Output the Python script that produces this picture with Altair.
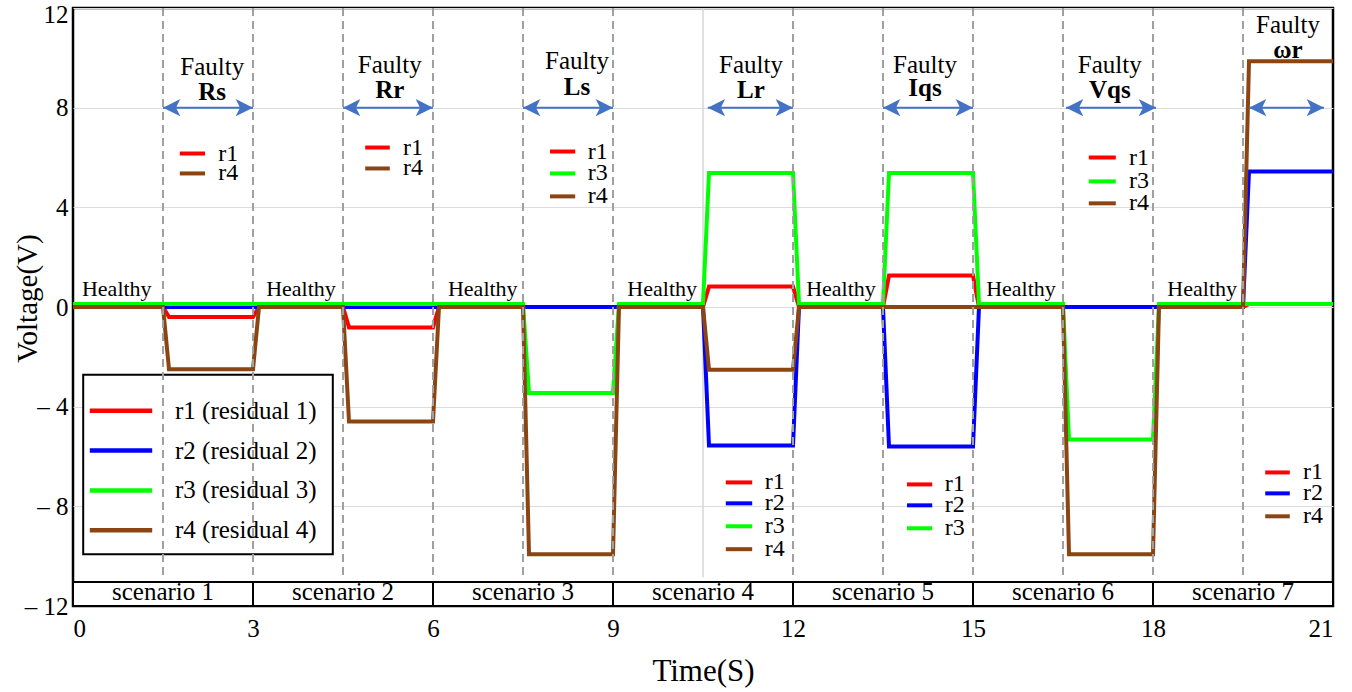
import altair as alt
import pandas as pd

FONT = "Liberation Serif"

# ---------------- data ----------------
time_s = [0, 1.5, 1.6, 3.0, 3.1, 4.5, 4.6, 6.0, 6.1, 7.5, 7.6, 9.0, 9.1,
          10.5, 10.6, 12.0, 12.1, 13.5, 13.6, 15.0, 15.1, 16.5, 16.6, 18.0, 18.1,
          19.5, 19.6, 21.0]
r1 = [0, 0, -0.4, -0.4, 0, 0, -0.82, -0.82, 0, 0, 0, 0, 0,
      0, 0.82, 0.82, 0, 0, 1.26, 1.26, 0, 0, 0, 0, 0,
      0, 0.12, 0.12]
r2 = [0, 0, 0, 0, 0, 0, 0, 0, 0, 0, 0, 0, 0,
      0, -5.56, -5.56, 0, 0, -5.6, -5.6, 0, 0, 0, 0, 0,
      0, 5.44, 5.44]
r3 = [0.12, 0.12, 0.12, 0.12, 0.12, 0.12, 0.12, 0.12, 0.12, 0.12, -3.45, -3.45, 0.12,
      0.12, 5.38, 5.38, 0.12, 0.12, 5.38, 5.38, 0.12, 0.12, -5.32, -5.32, 0.12,
      0.12, 0.12, 0.12]
r4 = [0, 0, -2.5, -2.5, 0, 0, -4.6, -4.6, 0, 0, -9.92, -9.92, 0,
      0, -2.52, -2.52, 0, 0, 0, 0, 0, 0, -9.92, -9.92, 0,
      0, 9.86, 9.86]

series_names = ["r1", "r2", "r3", "r4"]
series_colors = ["#ff0000", "#0000ff", "#00ff00", "#8b4513"]
legend_labels = ["r1 (residual 1)", "r2 (residual 2)", "r3 (residual 3)", "r4 (residual 4)"]

scenario_labels = ["scenario 1", "scenario 2", "scenario 3", "scenario 4",
                   "scenario 5", "scenario 6", "scenario 7"]
scenario_start = [0, 3, 6, 9, 12, 15, 18]
scenario_end = [3, 6, 9, 12, 15, 18, 21]

dashed_times = [1.5, 3, 4.5, 6, 7.5, 9, 12, 13.5, 15, 16.5, 18, 19.5]
grid_times = [10.5]

healthy_t = [0.73, 3.8, 6.83, 9.82, 12.8, 15.8, 18.82]
healthy_v = [0.44, 0.44, 0.44, 0.44, 0.44, 0.44, 0.44]

fault_names = ["Rs", "Rr", "Ls", "Lr", "Iqs", "Vqs", "ωr"]
fault_t = [2.32, 5.28, 8.4, 11.3, 14.2, 17.28, 20.25]
fault_word_v = [9.32, 9.4, 9.56, 9.4, 9.4, 9.4, 11.0]
fault_name_v = [8.32, 8.4, 8.52, 8.4, 8.48, 8.4, 10.0]
arrow_start = [1.5, 4.5, 7.5, 10.58, 13.5, 16.55, 19.6]
arrow_end = [3.0, 6.0, 9.0, 12.0, 15.0, 18.05, 20.85]
arrow_v = [8.0, 8.0, 8.0, 8.0, 8.0, 8.0, 8.0]

# small per-scenario legends
mini_series = ["r1", "r4",
               "r1", "r4",
               "r1", "r3", "r4",
               "r1", "r2", "r3", "r4",
               "r1", "r2", "r3",
               "r1", "r3", "r4",
               "r1", "r2", "r4"]
mini_t0 = [1.78, 1.78, 4.87, 4.87, 7.95, 7.95, 7.95,
           10.88, 10.88, 10.88, 10.88, 13.9, 13.9, 13.9,
           16.93, 16.93, 16.93, 19.87, 19.87, 19.87]
mini_t1 = [2.2, 2.2, 5.28, 5.28, 8.37, 8.37, 8.37,
           11.32, 11.32, 11.32, 11.32, 14.32, 14.32, 14.32,
           17.38, 17.38, 17.38, 20.28, 20.28, 20.28]
mini_text_t = [2.42, 2.42, 5.5, 5.5, 8.58, 8.58, 8.58,
               11.53, 11.53, 11.53, 11.53, 14.53, 14.53, 14.53,
               17.6, 17.6, 17.6, 20.5, 20.5, 20.5]
mini_v = [6.16, 5.36, 6.4, 5.56, 6.24, 5.36, 4.44,
          -7.04, -7.88, -8.8, -9.72, -7.12, -7.96, -8.88,
          6.0, 5.04, 4.16, -6.64, -7.48, -8.4]

# main legend (boxed)
legend_box = {"t0": [0.17], "t1": [4.33], "v0": [-2.72], "v1": [-9.92]}
legend_sw_t0 = [0.28, 0.28, 0.28, 0.28]
legend_sw_t1 = [1.32, 1.32, 1.32, 1.32]
legend_text_t = [1.7, 1.7, 1.7, 1.7]
legend_v = [-4.16, -5.76, -7.36, -8.96]

# ---------------- tables ----------------
rows = []
for name, vals in zip(series_names, [r1, r2, r3, r4]):
    for t, v in zip(time_s, vals):
        rows.append({"t": t, "v": v, "series": name})
lines_df = pd.DataFrame(rows)

band_df = pd.DataFrame({"t0": scenario_start, "t1": scenario_end, "label": scenario_labels,
                        "mid": [(a + b) / 2 for a, b in zip(scenario_start, scenario_end)],
                        "vb": [-12] * 7, "vt": [-11.04] * 7, "vl": [-11.74] * 7})
dash_df = pd.DataFrame({"t": dashed_times, "vt": [12] * len(dashed_times),
                        "vb": [-10.85] * len(dashed_times)})
grid_df = pd.DataFrame({"t": grid_times, "vt": [12], "vb": [-10.85]})
healthy_df = pd.DataFrame({"t": healthy_t, "v": healthy_v, "text": ["Healthy"] * len(healthy_t)})
fault_df = pd.DataFrame({"t": fault_t, "vw": fault_word_v, "vn": fault_name_v,
                         "name": fault_names, "word": ["Faulty"] * len(fault_t),
                         "a0": arrow_start, "a1": arrow_end, "av": arrow_v})
mini_df = pd.DataFrame({"series": mini_series, "t0": mini_t0, "t1": mini_t1,
                        "tt": mini_text_t, "v": mini_v})
legend_df = pd.DataFrame({"series": series_names, "label": legend_labels,
                          "t0": legend_sw_t0, "t1": legend_sw_t1,
                          "tt": legend_text_t, "v": legend_v})
box_df = pd.DataFrame(legend_box)

# ---------------- scales / axes ----------------
x_scale = alt.Scale(domain=[0, 21], nice=False, zero=False)
y_scale = alt.Scale(domain=[-12, 12], nice=False, zero=False)
color_scale = alt.Scale(domain=series_names, range=series_colors)

x_axis = alt.Axis(values=[0, 3, 6, 9, 12, 15, 18, 21], title="Time(S)", grid=False,
                  ticks=False, domain=False, labelFlush=True, labelFontSize=25,
                  labelPadding=10, labelFont=FONT, labelColor="black",
                  titleFont=FONT, titleFontSize=31, titleFontWeight="normal",
                  titleColor="black", titleY=74, titleBaseline="alphabetic")
y_axis = alt.Axis(values=[-12, -8, -4, 0, 4, 8, 12], title="Voltage(V)", grid=True,
                  gridColor="#dcdcdc", gridWidth=1.2, ticks=False, domain=False,
                  labelFontSize=25, labelPadding=5, labelFont=FONT, labelColor="black",
                  labelOffset={"condition": {"test": "datum.value == 12", "value": 6}, "value": 0},
                  labelExpr="datum.value < 0 ? '\u2013 ' + abs(datum.value) : datum.label",
                  titleFont=FONT, titleFontSize=29, titleFontWeight="normal",
                  titleColor="black", titleX=-37, titleY=290, titleBaseline="alphabetic")


def X(field):
    return alt.X(field, type="quantitative", scale=x_scale, axis=x_axis)


def Y(field):
    return alt.Y(field, type="quantitative", scale=y_scale, axis=y_axis)


# ---------------- layers ----------------
band = alt.Chart(band_df).mark_rect(fill="white", stroke="black", strokeWidth=2).encode(
    x=X("t0"), x2="t1", y=Y("vb"), y2="vt")
band_text = alt.Chart(band_df).mark_text(font=FONT, fontSize=25, baseline="alphabetic",
                                         align="center", color="black").encode(
    x=X("mid"), y=Y("vl"), text="label:N")

box = alt.Chart(box_df).mark_rect(fill="white", stroke="black", strokeWidth=2).encode(
    x=X("t0"), x2="t1", y=Y("v0"), y2="v1")

grid_rule = alt.Chart(grid_df).mark_rule(color="#d6d6d6", strokeWidth=1.5).encode(
    x=X("t"), y=Y("vt"), y2="vb")

lines = alt.Chart(lines_df).mark_line(strokeWidth=4, strokeJoin="miter", strokeCap="butt").encode(
    x=X("t"), y=Y("v"),
    color=alt.Color("series:N", scale=color_scale, legend=None),
    order=alt.Order("t:Q"),
)

dashes = alt.Chart(dash_df).mark_rule(color="#a0a0a0", strokeWidth=2, strokeDash=[8, 5]).encode(
    x=X("t"), y=Y("vt"), y2="vb")

arrow_body = alt.Chart(fault_df).mark_rule(color="#4472c4", strokeWidth=2).encode(
    x=X("a0"), x2="a1", y=Y("av"))
head_left = alt.Chart(fault_df).mark_point(shape="M0,0L2,-1L1.5,0L2,1Z", filled=True, size=300,
                                           color="#4472c4", opacity=1, strokeWidth=0).encode(
    x=X("a0"), y=Y("av"))
head_right = alt.Chart(fault_df).mark_point(shape="M0,0L-2,-1L-1.5,0L-2,1Z", filled=True, size=300,
                                            color="#4472c4", opacity=1, strokeWidth=0).encode(
    x=X("a1"), y=Y("av"))

faulty_word = alt.Chart(fault_df).mark_text(font=FONT, fontSize=25, align="center",
                                            baseline="alphabetic", color="black").encode(
    x=X("t"), y=Y("vw"), text="word:N")
faulty_name = alt.Chart(fault_df).mark_text(font=FONT, fontSize=25, fontWeight="bold", align="center",
                                            baseline="alphabetic", color="black").encode(
    x=X("t"), y=Y("vn"), text="name:N")

healthy = alt.Chart(healthy_df).mark_text(font=FONT, fontSize=22, align="center",
                                          baseline="alphabetic", color="black").encode(
    x=X("t"), y=Y("v"), text="text:N")

mini_sw = alt.Chart(mini_df).mark_rule(strokeWidth=4).encode(
    x=X("t0"), x2="t1", y=Y("v"), color=alt.Color("series:N", scale=color_scale, legend=None))
mini_txt = alt.Chart(mini_df).mark_text(font=FONT, fontSize=24, align="left", baseline="middle",
                                        color="black").encode(
    x=X("tt"), y=Y("v"), text="series:N")

leg_sw = alt.Chart(legend_df).mark_rule(strokeWidth=4.5).encode(
    x=X("t0"), x2="t1", y=Y("v"), color=alt.Color("series:N", scale=color_scale, legend=None))
leg_txt = alt.Chart(legend_df).mark_text(font=FONT, fontSize=25, align="left", baseline="middle",
                                         color="black").encode(
    x=X("tt"), y=Y("v"), text="label:N")

chart = alt.layer(
    band, box, grid_rule, lines, dashes, band_text, arrow_body, head_left, head_right,
    faulty_word, faulty_name, healthy, mini_sw, mini_txt, leg_sw, leg_txt,
).properties(
    width=1260, height=598,
    autosize=alt.AutoSizeParams(type="none"),
    padding={"left": 73, "top": 8, "right": 19, "bottom": 86},
    background="white",
).configure(font=FONT).configure_view(stroke="black", strokeWidth=2.5)

chart.save("out.html", embed_options={"renderer": "svg", "actions": False})
